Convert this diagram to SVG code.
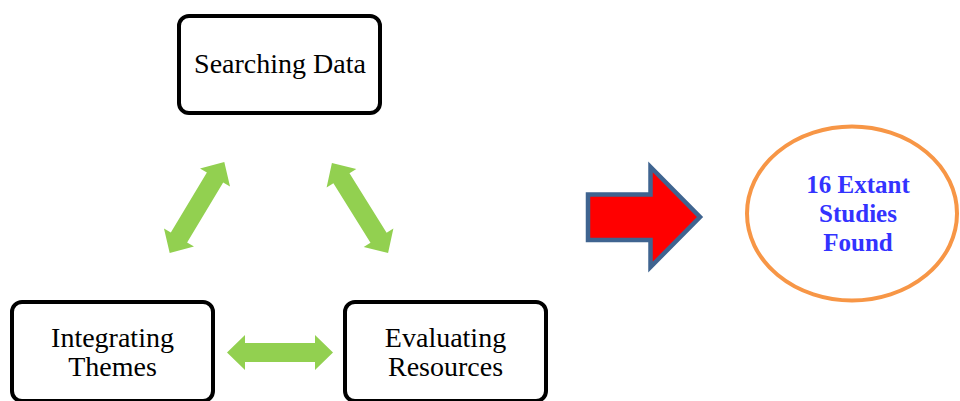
<svg xmlns="http://www.w3.org/2000/svg" width="960" height="401" viewBox="0 0 960 401">
<style>
.box{fill:#fff;stroke:#000;stroke-width:4}
.lbl{font-family:"Liberation Serif","Times New Roman",serif;font-size:28px;fill:#000;text-anchor:middle}
.dbl{fill:#92D050}
.res{font-family:"Liberation Serif","Times New Roman",serif;font-size:25px;font-weight:bold;fill:#3333FF;text-anchor:middle}
</style>
<defs>
<polygon id="dblarrow" points="-53,0 -35,-17.5 -35,-9.5 35,-9.5 35,-17.5 53,0 35,17.5 35,9.5 -35,9.5 -35,17.5"/>
</defs>
<rect width="960" height="401" fill="#fff"/>
<g id="searching">
<rect class="box" x="179" y="16" width="201" height="97" rx="10"/>
<text class="lbl" x="280" y="73">Searching Data</text>
</g>
<g id="integrating">
<rect class="box" x="12" y="302" width="201" height="99" rx="10"/>
<text class="lbl" x="112.5" y="347">Integrating</text>
<text class="lbl" x="112.5" y="376">Themes</text>
</g>
<g id="evaluating">
<rect class="box" x="345" y="302" width="201" height="99" rx="10"/>
<text class="lbl" x="445.5" y="347">Evaluating</text>
<text class="lbl" x="445.5" y="376">Resources</text>
</g>
<g id="connectors">
<use href="#dblarrow" class="dbl" transform="translate(197,207.5) rotate(-59)"/>
<use href="#dblarrow" class="dbl" transform="translate(360,208) rotate(58)"/>
<use href="#dblarrow" class="dbl" transform="translate(280,352.5)"/>
<polygon points="588,194.5 650.5,194.5 650.5,167 700,217 650.5,267 650.5,240 588,240" fill="#FF0000" stroke="#3F6490" stroke-width="4.5"/>
</g>
<g id="result">
<ellipse cx="852" cy="213.5" rx="105" ry="87" fill="#fff" stroke="#F79646" stroke-width="4"/>
<text class="res" x="858" y="193">16 Extant</text>
<text class="res" x="858" y="222">Studies</text>
<text class="res" x="858" y="251">Found</text>
</g>
</svg>
